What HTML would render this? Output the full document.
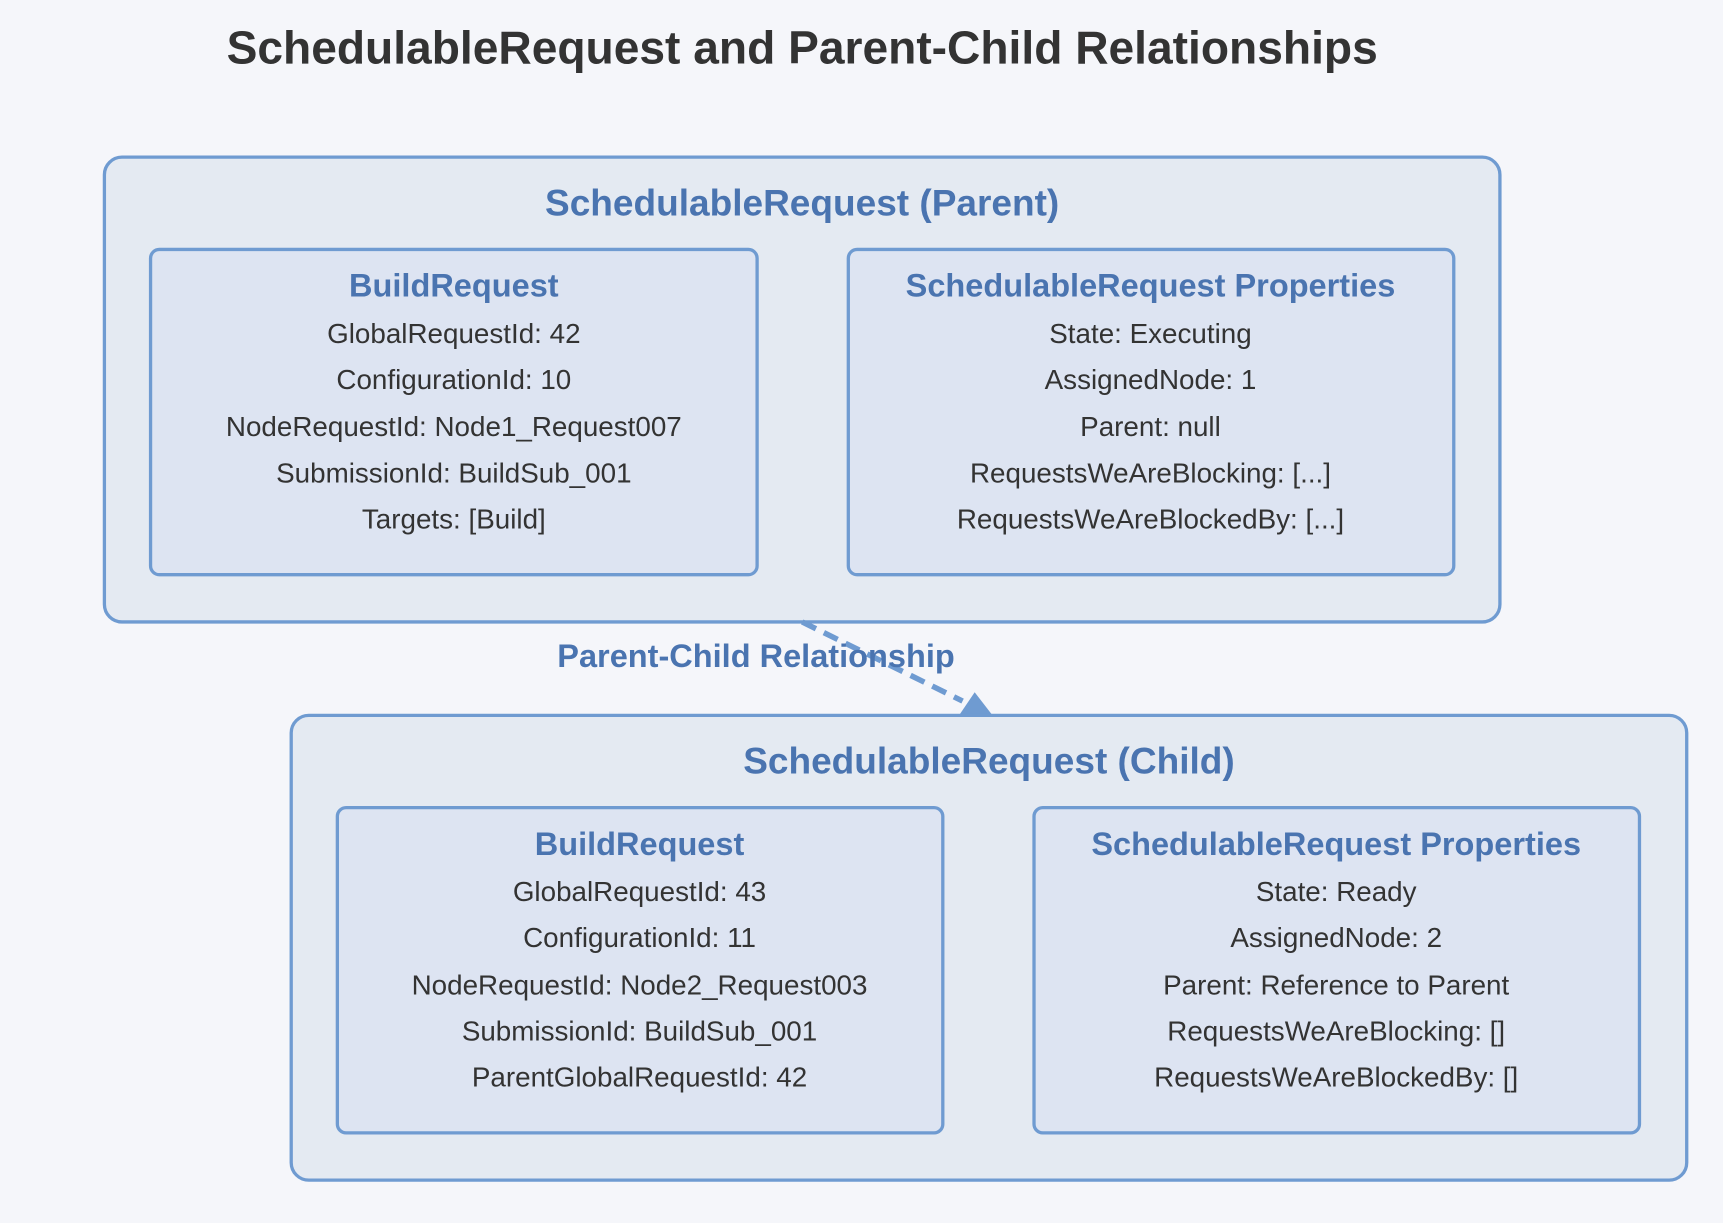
<!DOCTYPE html>
<html><head><meta charset="utf-8"><style>
html,body{margin:0;padding:0;background:#f5f6fa;}
svg{display:block;font-family:"Liberation Sans",Arial,sans-serif;}
</style></head><body>
<svg width="1723" height="1223" viewBox="0 0 1568 1113">
<rect width="1568" height="1113" fill="#f5f6fa"/>
<text x="730" y="58" text-anchor="middle" font-size="42" font-weight="bold" fill="#333">SchedulableRequest and Parent-Child Relationships</text>

<g>
<rect x="95" y="143" width="1270" height="423" rx="16" fill="#e4eaf2" stroke="#6f9bd1" stroke-width="3"/>
<text x="730" y="196" text-anchor="middle" font-size="33.7" font-weight="bold" fill="#4a74b0">SchedulableRequest (Parent)</text>
<g>
<rect x="137" y="227" width="552" height="296" rx="8" fill="#dde4f2" stroke="#6f9bd1" stroke-width="3"/>
<text x="413" y="270" text-anchor="middle" font-size="29.6" font-weight="bold" fill="#4a74b0">BuildRequest</text>
<g font-size="25.3" fill="#333" text-anchor="middle">
<text x="413" y="312">GlobalRequestId: 42</text>
<text x="413" y="354">ConfigurationId: 10</text>
<text x="413" y="397">NodeRequestId: Node1_Request007</text>
<text x="413" y="439">SubmissionId: BuildSub_001</text>
<text x="413" y="481">Targets: [Build]</text>
</g></g>
<g>
<rect x="772" y="227" width="551" height="296" rx="8" fill="#dde4f2" stroke="#6f9bd1" stroke-width="3"/>
<text x="1047" y="270" text-anchor="middle" font-size="29.6" font-weight="bold" fill="#4a74b0">SchedulableRequest Properties</text>
<g font-size="25.3" fill="#333" text-anchor="middle">
<text x="1047" y="312">State: Executing</text>
<text x="1047" y="354">AssignedNode: 1</text>
<text x="1047" y="397">Parent: null</text>
<text x="1047" y="439">RequestsWeAreBlocking: [...]</text>
<text x="1047" y="481">RequestsWeAreBlockedBy: [...]</text>
</g></g>
</g>

<g>
<line x1="730" y1="566" x2="876" y2="638" stroke="#6f9bd1" stroke-width="5" stroke-dasharray="14,8"/>
<polygon points="866,661 911,661 887,630" fill="#6f9bd1"/>
<text x="688" y="607" text-anchor="middle" font-size="29.6" font-weight="bold" fill="#4a74b0">Parent-Child Relationship</text>
</g>

<g>
<rect x="265" y="651" width="1270" height="423" rx="16" fill="#e4eaf2" stroke="#6f9bd1" stroke-width="3"/>
<text x="900" y="704" text-anchor="middle" font-size="33.7" font-weight="bold" fill="#4a74b0">SchedulableRequest (Child)</text>
<g>
<rect x="307" y="735" width="551" height="296" rx="8" fill="#dde4f2" stroke="#6f9bd1" stroke-width="3"/>
<text x="582" y="778" text-anchor="middle" font-size="29.6" font-weight="bold" fill="#4a74b0">BuildRequest</text>
<g font-size="25.3" fill="#333" text-anchor="middle">
<text x="582" y="820">GlobalRequestId: 43</text>
<text x="582" y="862">ConfigurationId: 11</text>
<text x="582" y="905">NodeRequestId: Node2_Request003</text>
<text x="582" y="947">SubmissionId: BuildSub_001</text>
<text x="582" y="989">ParentGlobalRequestId: 42</text>
</g></g>
<g>
<rect x="941" y="735" width="551" height="296" rx="8" fill="#dde4f2" stroke="#6f9bd1" stroke-width="3"/>
<text x="1216" y="778" text-anchor="middle" font-size="29.6" font-weight="bold" fill="#4a74b0">SchedulableRequest Properties</text>
<g font-size="25.3" fill="#333" text-anchor="middle">
<text x="1216" y="820">State: Ready</text>
<text x="1216" y="862">AssignedNode: 2</text>
<text x="1216" y="905">Parent: Reference to Parent</text>
<text x="1216" y="947">RequestsWeAreBlocking: []</text>
<text x="1216" y="989">RequestsWeAreBlockedBy: []</text>
</g></g>
</g>
</svg>
</body></html>
